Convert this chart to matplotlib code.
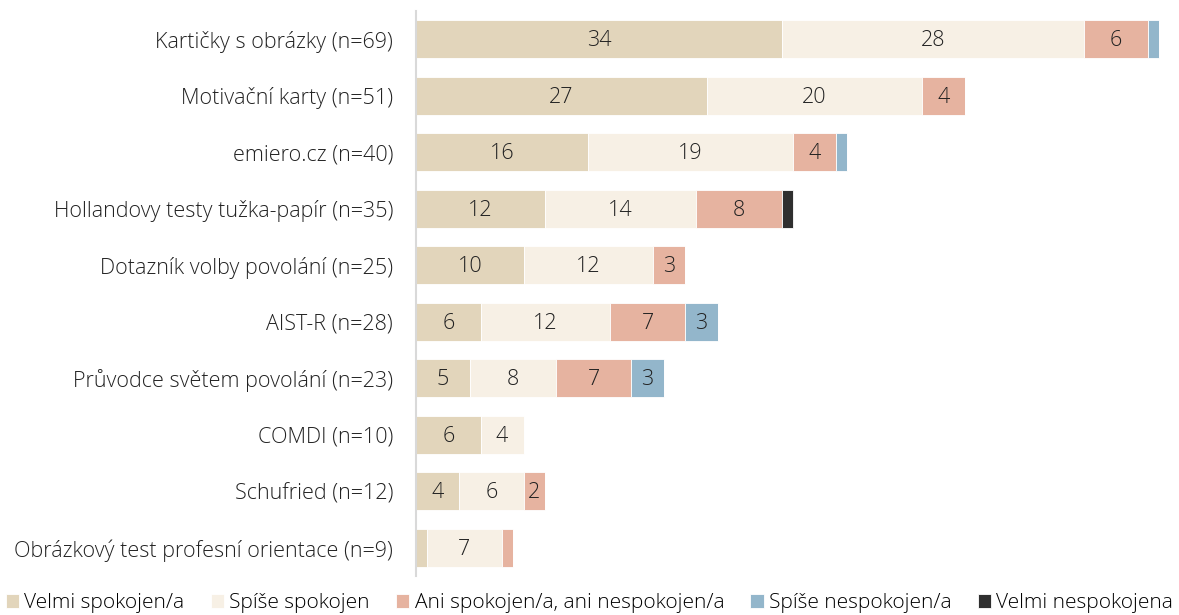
import matplotlib
matplotlib.use("Agg")
import matplotlib.pyplot as plt
import numpy as np

plt.rcParams["font.family"] = ["Open Sans", "DejaVu Sans"]
plt.rcParams["font.weight"] = "light"

categories = [
    "Kartičky s obrázky (n=69)",
    "Motivační karty (n=51)",
    "emiero.cz (n=40)",
    "Hollandovy testy tužka-papír (n=35)",
    "Dotazník volby povolání (n=25)",
    "AIST-R (n=28)",
    "Průvodce světem povolání (n=23)",
    "COMDI (n=10)",
    "Schufried (n=12)",
    "Obrázkový test profesní orientace (n=9)",
]
series_names = [
    "Velmi spokojen/a",
    "Spíše spokojen",
    "Ani spokojen/a, ani nespokojen/a",
    "Spíše nespokojen/a",
    "Velmi nespokojena",
]
velmi_spokojen = [34, 27, 16, 12, 10, 6, 5, 6, 4, 1]
spise_spokojen = [28, 20, 19, 14, 12, 12, 8, 4, 6, 7]
ani_ani = [6, 4, 4, 8, 3, 7, 7, 0, 2, 1]
spise_nespokojen = [1, 0, 1, 0, 0, 3, 3, 0, 0, 0]
velmi_nespokojen = [0, 0, 0, 1, 0, 0, 0, 0, 0, 0]
colors = ["#E2D5BB", "#F7F0E5", "#E6B3A0", "#93B6CB", "#2F2F2F"]

series = [velmi_spokojen, spise_spokojen, ani_ani, spise_nespokojen, velmi_nespokojen]

fig = plt.figure(figsize=(11.79, 6.15), dpi=100)
ax = fig.add_axes([416 / 1179, 39 / 615, (1170 - 416) / 1179, 565 / 615])

y = np.arange(len(categories))
left = np.zeros(len(categories))
for name, vals, col in zip(series_names, series, colors):
    vals = np.array(vals, dtype=float)
    ax.barh(y, vals, left=left, height=0.67, color=col, label=name,
            edgecolor="white", linewidth=0.6)
    for yi, (l, v) in enumerate(zip(left, vals)):
        if v >= 2:
            ax.text(l + v / 2, yi + 0.03, f"{int(v)}", ha="center", va="center",
                    fontsize=15.5, color="#222222")
    left += vals

ax.set_xlim(0, 70)
ax.set_ylim(len(categories) - 0.5, -0.5)
ax.set_yticks(y)
ax.set_yticklabels(categories, fontsize=15.5, color="#222222")
ax.tick_params(axis="y", length=0, pad=16.5)
ax.set_xticks([])
for s in ["top", "right", "bottom"]:
    ax.spines[s].set_visible(False)
ax.spines["left"].set_color("#D9D9D9")
ax.spines["left"].set_linewidth(1.5)

handles, labels = ax.get_legend_handles_labels()
fig.legend(handles, labels, loc="center", bbox_to_anchor=(0.5, 1 - 603 / 615),
           ncol=5, frameon=False, fontsize=15, handlelength=0.65,
           handleheight=0.65, handletextpad=0.25, columnspacing=1.25,
           borderaxespad=0, borderpad=0)

fig.savefig("out.png", dpi=100)
